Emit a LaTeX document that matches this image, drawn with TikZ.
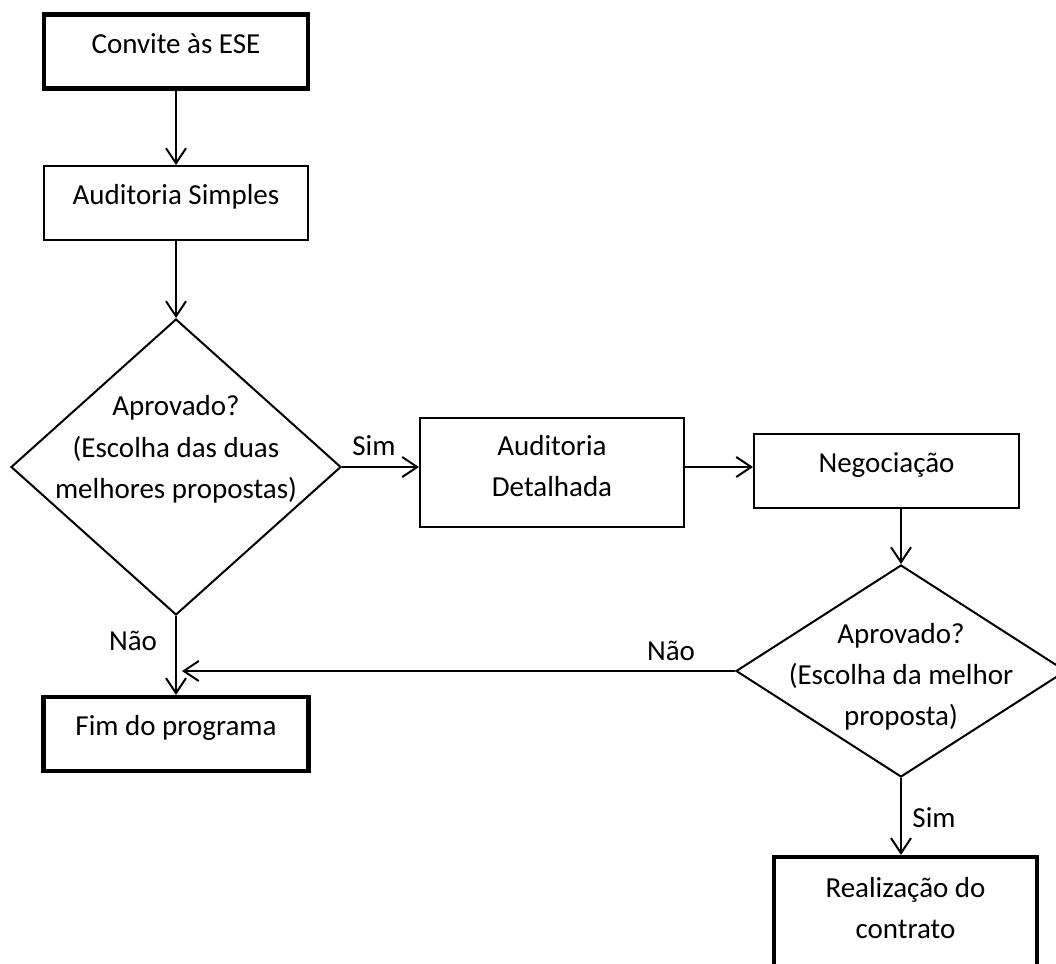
\documentclass[tikz,border=0pt]{standalone}
\usepackage{fontspec}
\setmainfont{Carlito}
\usetikzlibrary{shapes.geometric,arrows.meta}
\tikzset{
  box/.style={draw=black, line width=2pt, minimum width=264pt, minimum height=74pt, inner sep=0pt},
  endbox/.style={box, line width=4.2pt},
  dec/.style={draw=black, line width=2pt, diamond, inner sep=0pt},
  txt/.style={anchor=base, inner sep=0pt, font=\fontsize{29}{41}\selectfont},
  arr/.style={line width=2pt, -{Straight Barb[length=15pt,width=20pt,line width=2pt]}},
  ln/.style={line width=2pt}
}
\begin{document}
\begin{tikzpicture}[x=1pt,y=-1pt]
\useasboundingbox (0,0) rectangle (1056,963);
\clip (0,0) rectangle (1056,963);
% shapes
\node[endbox] (c1) at (176,51.5) {};
\node[box] (a1) at (176,203) {};
\node[dec, minimum width=330pt, minimum height=296pt] (d1) at (176,467) {};
\node[box, minimum height=109pt] (a2) at (552,472.5) {};
\node[box, minimum width=265pt] (n) at (886.5,471) {};
\node[dec, minimum width=330pt, minimum height=212pt] (d2) at (901,671) {};
\node[endbox, minimum width=265pt] (f) at (176,734) {};
\node[endbox, minimum width=263pt, minimum height=109pt] (r) at (905.5,911.5) {};
% texts
\node[txt] (t1) at (176,54) {Convite às ESE};
\node[txt] (t2) at (176,204) {Auditoria Simples};
\node[txt] (t3a) at (176,415) {Aprovado?};
\node[txt] (t3b) at (176,457) {(Escolha das duas};
\node[txt] (t3c) at (176,498) {melhores propostas)};
\node[txt] (t4a) at (552,455) {Auditoria};
\node[txt] (t4b) at (552,496) {Detalhada};
\node[txt] (t5) at (886.5,472) {Negociação};
\node[txt] (t6a) at (901,643) {Aprovado?};
\node[txt] (t6b) at (901,684) {(Escolha da melhor};
\node[txt] (t6c) at (901,725) {proposta)};
\node[txt] (t7) at (176,735) {Fim do programa};
\node[txt] (t8a) at (905.5,897) {Realização do};
\node[txt] (t8b) at (905.5,938) {contrato};
% labels
\node[txt] (l1) at (374,455) {Sim};
\node[txt] (l2) at (133,650) {Não};
\node[txt] (l3) at (671,660) {Não};
\node[txt] (l4) at (934,827) {Sim};
% connectors
\coordinate (jn) at ([xshift=6pt]d1.south |- d2.west);
\draw[arr] (c1.south) -- (a1.north);
\draw[arr] (a1.south) -- (d1.north);
\draw[arr] (d1.east) -- (d1.east -| a2.west);
\draw[arr] (d1.east -| a2.east) -- (d1.east -| n.west);
\draw[arr] (d2.north |- n.south) -- (d2.north);
\draw[arr] (d1.south) -- (f.north);
\draw[arr] (d2.west) -- (jn);
\draw[arr] (d2.south) -- (d2.south |- r.north);
\end{tikzpicture}
\end{document}
